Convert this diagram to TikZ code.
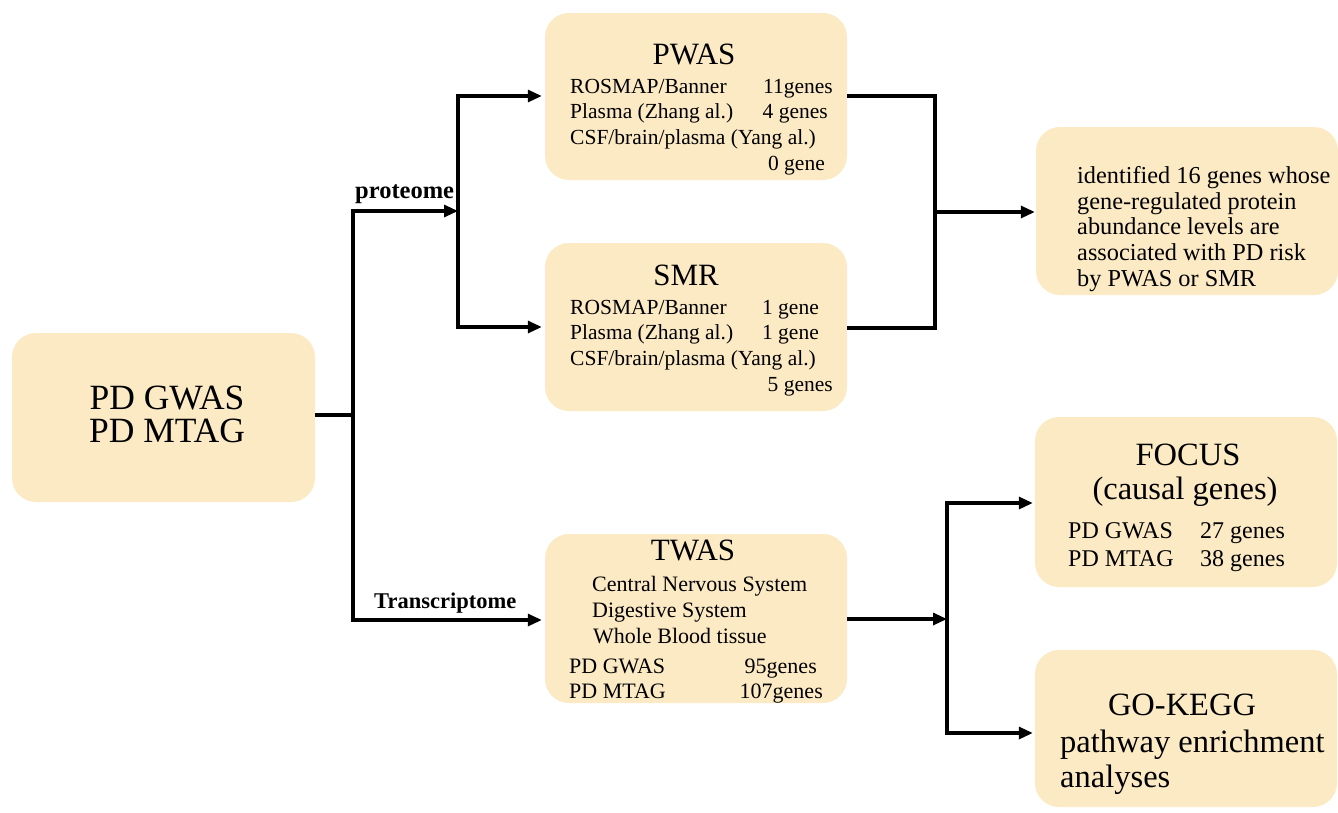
\documentclass[tikz,border=0pt]{standalone}
\usepackage{fontspec}
\setmainfont{Liberation Serif}
\usetikzlibrary{arrows.meta}
\definecolor{boxfill}{RGB}{252,234,197}
\tikzset{
  box/.style={rectangle, rounded corners=24pt, fill=boxfill, draw=none, inner sep=0pt},
  conn/.style={line width=3.1pt, black},
  arr/.style={conn, -{Triangle[length=14pt, width=12pt]}},
  ttl/.style={inner sep=0pt, anchor=base, font=\fontsize{31}{31}\selectfont},
  big/.style={inner sep=0pt, anchor=base, font=\fontsize{32.5}{32.5}\selectfont},
  bodyw/.style={inner sep=0pt, anchor=base west, font=\fontsize{21.5}{21.5}\selectfont},
  bodye/.style={inner sep=0pt, anchor=base east, font=\fontsize{21.5}{21.5}\selectfont},
  lbl/.style={inner sep=0pt, anchor=base west, font=\bfseries\fontsize{24.5}{24.5}\selectfont},
}
\begin{document}
\begin{tikzpicture}[x=1pt, y=-1pt]
\useasboundingbox (0,0) rectangle (1338,812);
% boxes
\node[box, minimum width=303pt, minimum height=169pt] (pd) at (163.5,417.5) {};
\node[box, minimum width=302pt, minimum height=167pt] (pwas) at (696,96.5) {};
\node[box, minimum width=302pt, minimum height=168pt] (smr) at (696,327) {};
\node[box, minimum width=302pt, minimum height=169pt] (twas) at (696,618.5) {};
\node[box, minimum width=302pt, minimum height=168pt] (res) at (1187,211) {};
\node[box, minimum width=302pt, minimum height=170pt] (focus) at (1186,502) {};
\node[box, minimum width=302pt, minimum height=157pt] (gokegg) at (1186,728.5) {};
% PD text
\node[inner sep=0pt, anchor=base, font=\fontsize{35.5}{35.5}\selectfont] (pd1) at (167,409) {PD GWAS};
\node[inner sep=0pt, anchor=base, font=\fontsize{35.5}{35.5}\selectfont] (pd2) at (167,442) {PD MTAG};
% PWAS text
\node[ttl] (pwast) at (694,64) {PWAS};
\node[bodyw] (pw1) at (570,93) {ROSMAP/Banner};
\node[bodye] (pw1n) at (833,93) {11genes};
\node[bodyw] (pw2) at (570,118) {Plasma (Zhang al.)};
\node[bodye] (pw2n) at (828,118) {4 genes};
\node[bodyw] (pw3) at (570,144) {CSF/brain/plasma (Yang al.)};
\node[bodye] (pw4n) at (825,170) {0 gene};
% SMR text
\node[ttl] (smrt) at (686,285) {SMR};
\node[bodyw] (sm1) at (570,314) {ROSMAP/Banner};
\node[bodye] (sm1n) at (819,314) {1 gene};
\node[bodyw] (sm2) at (570,339) {Plasma (Zhang al.)};
\node[bodye] (sm2n) at (819,339) {1 gene};
\node[bodyw] (sm3) at (570,365) {CSF/brain/plasma (Yang al.)};
\node[bodye] (sm4n) at (833,391) {5 genes};
% TWAS text
\node[ttl] (twast) at (693,560) {TWAS};
\node[bodyw, font=\fontsize{22}{22}\selectfont] (tw1) at (592,591) {Central Nervous System};
\node[bodyw, font=\fontsize{22}{22}\selectfont] (tw2) at (592,617) {Digestive System};
\node[bodyw, font=\fontsize{22}{22}\selectfont] (tw3) at (593,643) {Whole Blood tissue};
\node[bodyw, font=\fontsize{22}{22}\selectfont] (tw4) at (569,673) {PD GWAS};
\node[bodye, font=\fontsize{22}{22}\selectfont] (tw4n) at (817,673) {95genes};
\node[bodyw, font=\fontsize{22}{22}\selectfont] (tw5) at (569,698) {PD MTAG};
\node[bodye, font=\fontsize{22}{22}\selectfont] (tw5n) at (823,698) {107genes};
% result text
\node[bodyw, font=\fontsize{24.3}{24.3}\selectfont] (r1) at (1077,183) {identified 16 genes whose};
\node[bodyw, font=\fontsize{24.3}{24.3}\selectfont] (r2) at (1077,209) {gene-regulated protein};
\node[bodyw, font=\fontsize{24.3}{24.3}\selectfont] (r3) at (1077,234) {abundance levels are};
\node[bodyw, font=\fontsize{24.3}{24.3}\selectfont] (r4) at (1077,260) {associated with PD risk};
\node[bodyw, font=\fontsize{24.3}{24.3}\selectfont] (r5) at (1077,286) {by PWAS or SMR};
% FOCUS text
\node[big] (fct) at (1188,465) {FOCUS};
\node[big] (fc2) at (1185,499) {(causal genes)};
\node[bodyw, font=\fontsize{24}{24}\selectfont] (fc3) at (1068,538) {PD GWAS};
\node[bodyw, font=\fontsize{24}{24}\selectfont] (fc3n) at (1200,538) {27 genes};
\node[bodyw, font=\fontsize{24}{24}\selectfont] (fc4) at (1068,566) {PD MTAG};
\node[bodyw, font=\fontsize{24}{24}\selectfont] (fc4n) at (1200,566) {38 genes};
% GO-KEGG text
\node[big] (gkt) at (1182,715) {GO-KEGG};
\node[bodyw, font=\fontsize{32.5}{32.5}\selectfont] (gk2) at (1060,752) {pathway enrichment};
\node[bodyw, font=\fontsize{32.5}{32.5}\selectfont] (gk3) at (1060,787) {analyses};
% labels
\node[lbl] (lprot) at (355,198) {proteome};
\node[lbl, font=\bfseries\fontsize{22.5}{22.5}\selectfont] (ltrans) at (374,608) {Transcriptome};
% junction coordinates
\coordinate (j1) at (353,415);
\coordinate (j1t) at (353,211);
\coordinate (j1b) at (353,620);
\coordinate (j2) at (458,211);
\coordinate (j2t) at (458,96);
\coordinate (j2b) at (458,327);
\coordinate (j3t) at (935,96);
\coordinate (j3b) at (935,328);
\coordinate (j3) at (935,212);
\coordinate (j4) at (947,619);
\coordinate (j4t) at (947,503);
\coordinate (j4b) at (947,733);
% connectors
\draw[conn] (pd.east |- j1) -- (j1);
\draw[conn, line cap=rect] (j1t) -- (j1b);
\draw[arr] (j1t) -- (j2);
\draw[conn, line cap=rect] (j2t) -- (j2b);
\draw[arr] (j2t) -- ([xshift=-3pt]pwas.west |- j2t);
\draw[arr] (j2b) -- ([xshift=-3pt]smr.west |- j2b);
\draw[arr] (j1b) -- ([xshift=-3pt]twas.west |- j1b);
\draw[conn, line join=miter] (pwas.east |- j3t) -- (j3t) -- (j3b) -- (smr.east |- j3b);
\draw[arr] (j3) -- ([xshift=-1pt]res.west |- j3);
\draw[arr] (twas.east |- j4) -- (j4);
\draw[conn, line cap=rect] (j4t) -- (j4b);
\draw[arr] (j4t) -- ([xshift=-2pt]focus.west |- j4t);
\draw[arr] (j4b) -- ([xshift=-2pt]gokegg.west |- j4b);
\end{tikzpicture}
\end{document}
